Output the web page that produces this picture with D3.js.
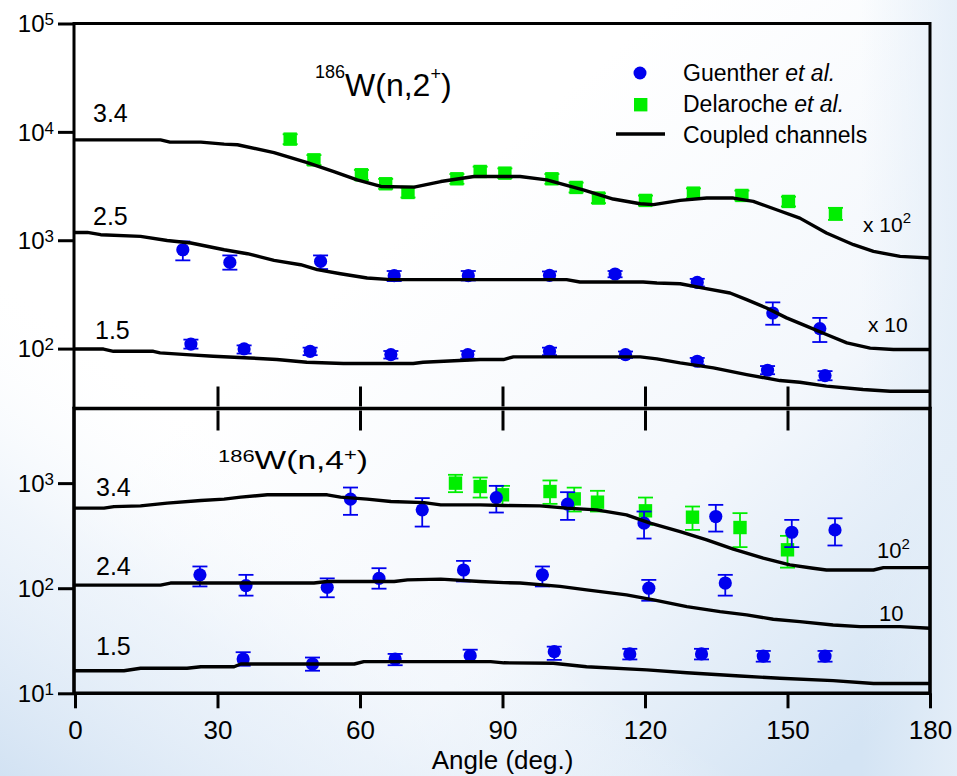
<!DOCTYPE html>
<html>
<head>
<meta charset="utf-8">
<script src="https://cdn.jsdelivr.net/npm/d3@7"></script>
<style>
  html, body { margin: 0; padding: 0; background: #ffffff; }
  svg { display: block; font-family: "Liberation Sans", Arial, sans-serif; }
</style>
</head>
<body>
<svg id="chart" width="957" height="776"></svg>
<script>
// ---- data -------------------------------------------------------------
const angleTicks = [0, 30, 60, 90, 120, 150, 180];
const innerTicks = [30, 60, 90, 120, 150];
const topDecades = [1e2, 1e3, 1e4, 1e5];
const bottomDecades = [1e1, 1e2, 1e3];

// 186W(n,2+) coupled-channels curves [angle, plotted value]
const cc2_34 = [[0,8430],[18,8430],[20,8040],[26.5,8040],[31.4,7710],[34.2,7600],[41.9,6440],[48.9,5210],[54.5,4305],[59.4,3610],[64.4,3135],[71.4,3090],[77,3480],[84,3870],[93.7,3870],[99.3,3610],[107,2920],[113.3,2400],[119,2170],[121.8,2130],[127.4,2330],[133,2450],[138.6,2450],[142.8,2280],[147.7,1910],[152.6,1600],[158.2,1165],[163.9,909],[168.1,789],[173.7,709],[180,685]];
const cc2_25 = [[0,1180],[2.6,1180],[5.4,1125],[13.8,1085],[19.4,995],[24.4,942],[31.4,817],[36.3,751],[41.9,652],[47.5,594],[51,535],[55.9,491],[61.5,448],[66.5,433],[103.5,433],[106.3,412],[119.6,412],[122.5,403],[127.4,397],[132.3,362],[137.9,326],[141.4,283],[145.6,237],[149.8,192],[154,161],[158.2,135],[162.5,113],[167.4,101],[172.3,98],[180,98]];
const cc2_15 = [[0,99],[6,99],[8.1,94.4],[16.5,94.4],[17.9,91.2],[23.5,88],[29.1,85],[36.8,82],[42.5,79.2],[48.8,74.8],[56.5,72.8],[71.2,72.8],[73.3,74.8],[85.3,79.2],[90.2,79.2],[92.3,83.8],[119,83.8],[122.5,80.4],[127.4,73.8],[134.4,66.4],[141.4,57.6],[148.4,50.7],[152.6,48.9],[158.2,45],[165.9,41.9],[171.6,40.4],[180,40.4]];

// 186W(n,2+) measurements [angle, value, lower, upper]
const del2_34 = [[45.3,8570,7700,9500],[50.3,5520,4950,6100],[60.3,4020,3600,4450],[65.4,3320,2980,3680],[70.1,2760,2480,3060],[80.4,3690,3320,4080],[85.3,4310,3880,4770],[90.5,4160,3740,4600],[100.4,3690,3320,4080],[105.5,3070,2760,3400],[110.2,2450,2200,2710],[120.1,2330,2090,2580],[130.2,2720,2440,3010],[140.4,2590,2330,2870],[150.2,2280,2050,2520],[160.1,1755,1540,1990]];
const gue2_25 = [[22.7,817,652,975],[32.6,624,535,724],[51.7,638,542,724],[67.2,471,420,520],[82.8,471,425,520],[99.9,474,430,515],[113.7,488,455,520],[131,408,375,440],[146.9,213,166,267],[156.8,153,115,192]];
const gue2_15 = [[24.4,110,100,121],[35.6,99.4,90,107],[49.5,94.4,87,102],[66.5,88,81,95],[82.7,88,81,95],[99.9,94.4,87,102],[115.9,88,82,94],[131,76.4,71,82],[145.8,63.1,58,69],[157.9,56.4,51,62]];

// 186W(n,4+) coupled-channels curves
const cc4_34 = [[0,578],[6.1,578],[8.2,598],[13.8,608],[19.4,645],[26.5,683],[31.4,704],[34.9,736],[40.5,774],[53.1,774],[55.9,736],[61.5,704],[66.5,668],[73.5,653],[77,621],[85.3,621],[90.3,612],[97.9,608],[103.5,578],[109.8,557],[116.1,499],[121.1,416],[127.4,346],[133,288],[138.6,235],[144.9,193],[150.5,167],[155.4,155],[158.2,149],[168.1,149],[170.2,157],[180,157]];
const cc4_24 = [[0,107],[18,107],[20.1,112],[50.3,112],[53.1,116],[67.2,116],[70,120],[77,122],[85.3,116],[90.3,113],[93.7,112],[102.1,104],[107.7,96.4],[116.1,86.3],[121.8,77.4],[128.8,66.9],[135.8,59.8],[141.4,55.7],[147,50.7],[152.6,48.1],[159.6,44.7],[165.3,43.1],[173.7,43.1],[180,41.6]];
const cc4_15 = [[0,16.4],[10.3,16.4],[13.8,17.3],[23.6,17.3],[26.5,17.9],[33.5,17.9],[34.9,19],[58.8,19],[60.8,20],[87.5,20],[90.3,19.5],[100.7,19.3],[107.7,17.9],[120.4,16.7],[128.8,15.7],[140,14.6],[148.4,13.9],[159.6,13.2],[168.1,12.4],[180,12.4]];

// 186W(n,4+) measurements
const del4_34 = [[80.1,1000,820,1200],[85.3,929,729,1130],[90,774,621,942],[100,832,635,1060],[105.1,708,537,906],[110,659,537,845],[120.1,545,401,729],[130,474,359,599],[140,378,246,518],[150,232,157,315]];
const gue4_34 = [[58,704,499,908],[73.1,557,386,720],[88.7,729,525,942],[103.7,631,447,820],[119.8,416,297,537],[134.9,481,346,621],[150.9,341,246,447],[160,359,255,463]];
const gue4_24 = [[26.3,134,104,161],[36,106,85,134],[53.1,102,82,124],[64,124,99,155],[81.8,149,116,182],[98.4,134,104,161],[120.8,100,76,120],[136.9,112,85,134]];
const gue4_15 = [[35.4,21.2,18.3,24.6],[50,19,16.4,21.9],[67.4,21.2,18.5,23.7],[83.2,22.8,20,26],[100.9,24.9,20.8,27.8],[116.8,23.7,21,26.5],[131.9,23.7,21,26.5],[144.9,22.6,20,25.3],[157.9,22.6,20,25.3]];

const legendLabels = [["Guenther ", "et al."], ["Delaroche ", "et al."], ["Coupled channels", ""]];

// ---- layout & scales --------------------------------------------------
const BLUE = "#0000ee", GREEN = "#00ee00";
const svg = d3.select("#chart");
const defs = svg.append("defs");

const x = d3.scaleLinear().domain([0, 180]).range([75, 930]);
const yTop = d3.scaleLog().domain([28, 1e5]).range([408.5, 23.5]);
const yBot = d3.scaleLog().domain([10, 5130]).range([693.3, 408.5]);

// background: soft white-to-pale-blue wash
const g1 = defs.append("linearGradient").attr("id", "wash")
  .attr("x1", 0.42).attr("y1", 0.3).attr("x2", 1).attr("y2", 0.85);
g1.append("stop").attr("offset", 0).attr("stop-color", "#ffffff");
g1.append("stop").attr("offset", 0.55).attr("stop-color", "#f3f7fc");
g1.append("stop").attr("offset", 1).attr("stop-color", "#d4e4f4");
const g3 = defs.append("linearGradient").attr("id", "edge")
  .attr("x1", 0.9).attr("y1", 0).attr("x2", 1).attr("y2", 0);
g3.append("stop").attr("offset", 0).attr("stop-color", "#e4eef8").attr("stop-opacity", 0);
g3.append("stop").attr("offset", 1).attr("stop-color", "#e4eef8").attr("stop-opacity", 0.9);
const g2 = defs.append("linearGradient").attr("id", "corner")
  .attr("x1", 0).attr("y1", 1).attr("x2", 0.32).attr("y2", 0.62);
g2.append("stop").attr("offset", 0).attr("stop-color", "#d2e2f3").attr("stop-opacity", 1);
g2.append("stop").attr("offset", 0.55).attr("stop-color", "#e6eff9").attr("stop-opacity", 0.6);
g2.append("stop").attr("offset", 1).attr("stop-color", "#ffffff").attr("stop-opacity", 0);
svg.append("rect").attr("width", 957).attr("height", 776).attr("fill", "url(#wash)");
svg.append("rect").attr("width", 957).attr("height", 776).attr("fill", "url(#edge)");
svg.append("rect").attr("width", 957).attr("height", 776).attr("fill", "url(#corner)");

// ---- marks ------------------------------------------------------------
const line = (ys) => d3.line().x(d => x(d[0])).y(d => ys(d[1]));

function errorBars(data, ys, color) {
  const g = svg.append("g").attr("stroke", color).attr("stroke-width", 1.8).attr("fill", "none");
  g.selectAll("line.v").data(data).join("line")
    .attr("x1", d => x(d[0])).attr("x2", d => x(d[0]))
    .attr("y1", d => ys(d[2])).attr("y2", d => ys(d[3]));
  g.selectAll("line.lo").data(data).join("line")
    .attr("x1", d => x(d[0]) - 7.5).attr("x2", d => x(d[0]) + 7.5)
    .attr("y1", d => ys(d[2])).attr("y2", d => ys(d[2]));
  g.selectAll("line.hi").data(data).join("line")
    .attr("x1", d => x(d[0]) - 7.5).attr("x2", d => x(d[0]) + 7.5)
    .attr("y1", d => ys(d[3])).attr("y2", d => ys(d[3]));
}
function circles(data, ys) {
  errorBars(data, ys, BLUE);
  svg.append("g").selectAll("circle").data(data).join("circle")
    .attr("cx", d => x(d[0])).attr("cy", d => ys(d[1])).attr("r", 6.6).attr("fill", BLUE);
}
function squares(data, ys) {
  errorBars(data, ys, GREEN);
  svg.append("g").selectAll("rect").data(data).join("rect")
    .attr("x", d => x(d[0]) - 6.7).attr("y", d => ys(d[1]) - 6.7)
    .attr("width", 13.4).attr("height", 13.4).attr("fill", GREEN);
}
function curve(data, ys) {
  svg.append("path").datum(data).attr("d", line(ys)(data))
    .attr("fill", "none").attr("stroke", "#000").attr("stroke-width", 3.4)
    .attr("stroke-linejoin", "round");
}

squares(del2_34, yTop);
circles(gue2_25, yTop);
circles(gue2_15, yTop);
squares(del4_34, yBot);
circles(gue4_34, yBot);
circles(gue4_24, yBot);
circles(gue4_15, yBot);
[[cc2_34, yTop], [cc2_25, yTop], [cc2_15, yTop], [cc4_34, yBot], [cc4_24, yBot], [cc4_15, yBot]]
  .forEach(([d, ys]) => curve(d, ys));

// ---- frames & axes ----------------------------------------------------
const frame = svg.append("g").attr("fill", "none").attr("stroke", "#000").attr("stroke-width", 3);
frame.append("path").attr("d", `M${x(0) - 1},${yTop.range()[0]}V${yTop(1e5)}H${x(180)}V${yTop.range()[0]}`);
frame.append("path").attr("d", `M${x(0) - 1},${yBot.range()[1]}H${x(180)}V${yBot(10)}H${x(0) - 1}Z`)
  .attr("stroke-width", 3.6);

function styleAxis(g) {
  g.select(".domain").remove();
  g.selectAll(".tick line").attr("stroke", "#000").attr("stroke-width", 3);
}
function decadeLabels(g, size, supSize) {
  g.selectAll(".tick text").each(function (d) {
    const t = d3.select(this).text("").attr("fill", "#000").attr("font-size", size)
      .attr("font-family", "'Liberation Sans', Arial, sans-serif").attr("dy", "0.35em");
    t.append("tspan").text("10");
    t.append("tspan").attr("font-size", supSize).attr("dy", "-0.42em")
      .text(Math.round(Math.log10(d)));
  });
}

svg.append("g").attr("transform", `translate(${x(0) - 1},0)`)
  .call(d3.axisLeft(yTop).tickValues(topDecades).tickSize(16).tickPadding(4))
  .call(styleAxis).call(g => decadeLabels(g, 24, 17));
svg.append("g").attr("transform", `translate(${x(0) - 1},0)`)
  .call(d3.axisLeft(yBot).tickValues(bottomDecades).tickSize(16).tickPadding(4))
  .call(styleAxis).call(g => decadeLabels(g, 24, 17));

// ticks on the panel divider
svg.append("g").attr("transform", `translate(0,${yTop.range()[0] - 2})`)
  .call(d3.axisTop(x).tickValues(innerTicks).tickSize(20).tickFormat(""))
  .call(styleAxis);
svg.append("g").attr("transform", `translate(0,${yBot.range()[1] + 2})`)
  .call(d3.axisBottom(x).tickValues(innerTicks).tickSize(20).tickFormat(""))
  .call(styleAxis);

// angle axis
const xa = svg.append("g").attr("transform", `translate(0,${yBot(10)})`)
  .call(d3.axisBottom(x).tickValues(angleTicks).tickSize(15).tickPadding(12))
  .call(styleAxis);
xa.selectAll(".tick text").attr("fill", "#000").attr("font-size", 26)
  .attr("font-family", "'Liberation Sans', Arial, sans-serif");
svg.append("text").attr("x", x(90)).attr("y", 769).attr("text-anchor", "middle")
  .attr("font-size", 26).text("Angle (deg.)");

// ---- annotations ------------------------------------------------------
function label(px, py, parts, size) {
  const t = svg.append("text").attr("x", px).attr("y", py).attr("font-size", size).attr("fill", "#000");
  parts.forEach(p => {
    const s = t.append("tspan").text(p.t);
    if (p.size) s.attr("font-size", p.size);
    if (p.dy) s.attr("dy", p.dy);
    if (p.italic) s.attr("font-style", "italic");
  });
  return t;
}
// energies
label(93, 122, [{ t: "3.4" }], 25);
label(93, 225, [{ t: "2.5" }], 25);
label(95, 339, [{ t: "1.5" }], 25);
label(96, 496, [{ t: "3.4" }], 25);
label(96, 575, [{ t: "2.4" }], 25);
label(96, 655, [{ t: "1.5" }], 25);
// scale factors
label(863, 232, [{ t: "x 10" }, { t: "2", size: 15, dy: -9 }], 21);
label(868, 332, [{ t: "x 10" }], 21);
label(877, 558, [{ t: "10" }, { t: "2", size: 15, dy: -9 }], 22);
label(879, 621, [{ t: "10" }], 22);
// reaction titles
label(315, 96, [{ t: "186", size: 18, dy: -18 }, { t: "W(n,2", dy: 18 }, { t: "+", size: 18, dy: -16 }, { t: ")", dy: 16 }], 32);
label(218, 469, [{ t: "186", size: 17, dy: -7 }, { t: "W(n,4", dy: 7 }, { t: "+", size: 17, dy: -9 }, { t: ")", dy: 9 }], 26)
  .attr("textLength", 150).attr("lengthAdjust", "spacingAndGlyphs");

// legend
const lg = svg.append("g");
lg.append("circle").attr("cx", 640).attr("cy", 73).attr("r", 6.5).attr("fill", BLUE);
lg.append("rect").attr("x", 634).attr("y", 98).attr("width", 13.4).attr("height", 13.4).attr("fill", GREEN);
lg.append("line").attr("x1", 616).attr("x2", 665).attr("y1", 134).attr("y2", 134)
  .attr("stroke", "#000").attr("stroke-width", 3.4);
legendLabels.forEach((l, i) => {
  label(683, 81 + i * 31, [{ t: l[0] }, { t: l[1], italic: true }], 23);
});
</script>
</body>
</html>
